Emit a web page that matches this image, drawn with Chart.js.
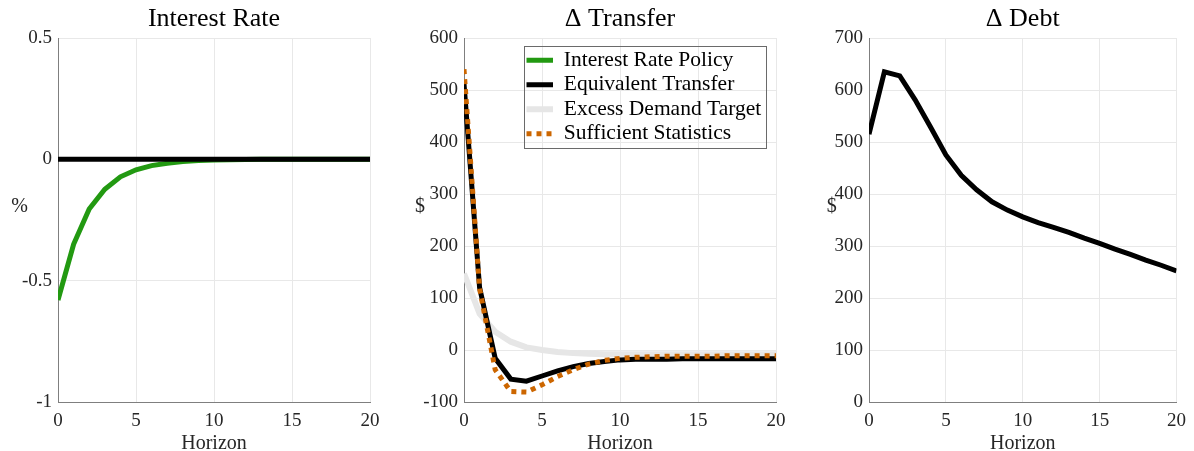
<!DOCTYPE html>
<html>
<head>
<meta charset="utf-8">
<script src="https://cdn.jsdelivr.net/npm/chart.js@4.4.1/dist/chart.umd.min.js"></script>
<style>
  body { margin: 0; background: #fff; }
  #wrap { position: relative; width: 1194px; height: 451px; }
  canvas { position: absolute; top: 0; }
</style>
</head>
<body>
<div id="wrap">
  <canvas id="rate" width="398" height="451" style="left:0px"></canvas>
  <canvas id="transfer" width="398" height="451" style="left:398px"></canvas>
  <canvas id="debt" width="398" height="451" style="left:796px"></canvas>
</div>
<script>
// horizon (quarters)
const horizon = [0, 1, 2, 3, 4, 5, 6, 7, 8, 9, 10, 11, 12, 13, 14, 15, 16, 17, 18, 19, 20];

// Interest Rate panel (%)
const ratePolicy = [-0.58, -0.35, -0.205, -0.123, -0.072, -0.043, -0.026, -0.016, -0.009, -0.005, -0.003, -0.002, -0.001, 0, 0, 0, 0, 0, 0, 0, 0];
const rateEquivalent = [0, 0, 0, 0, 0, 0, 0, 0, 0, 0, 0, 0, 0, 0, 0, 0, 0, 0, 0, 0, 0];

// Delta Transfer panel ($)
const transferEquivalent = [512, 120, -16, -56, -60, -50, -40, -32, -26, -22, -19, -18, -18, -18, -17, -17, -17, -17, -17, -17, -17];
const transferExcessDemand = [147, 70, 35, 16, 5, 0, -4, -6, -7, -8, -8, -8, -8, -8, -8, -8, -8, -8, -8, -8, -8];
const transferSufficient = [540, 118, -38, -80, -81, -67, -51, -38, -27, -20, -16, -14, -13, -12, -12, -12, -12, -11, -11, -11, -11];

// Delta Debt panel ($)
const debtEquivalent = [515, 635, 627, 581, 529, 475, 436, 408, 385, 369, 356, 345, 336, 326, 315, 305, 294, 284, 273, 263, 252];

const seriesNames = ['Interest Rate Policy', 'Equivalent Transfer', 'Excess Demand Target', 'Sufficient Statistics'];
const xTicks = { min: 0, max: 20, step: 5 };

const GREEN = '#229911', BLACK = '#000000', GRAY = '#e6e6e6', ORANGE = '#cc6600';
const FONT = '"Liberation Serif", "DejaVu Serif", serif';

Chart.defaults.font.family = FONT;
Chart.defaults.color = '#262626';

const pts = ys => ys.map((y, i) => ({ x: horizon[i], y: y }));

// y label drawn upright, as in the original
const yLabel = {
  id: 'yLabel',
  afterDraw(chart, args, opts) {
    const ctx = chart.ctx;
    ctx.save();
    ctx.font = '20px ' + FONT;
    ctx.fillStyle = '#262626';
    ctx.textAlign = 'center';
    ctx.textBaseline = 'middle';
    ctx.fillText(opts.text, opts.x, opts.y);
    ctx.restore();
  }
};

// put the legend in the top right corner of the plot, with a frame
const legendBox = {
  id: 'legendBox',
  afterLayout(chart, args, opts) {
    const lg = chart.legend, a = chart.chartArea;
    const left = a.right - opts.right - opts.width;
    const top = a.top + opts.top;
    lg.left = left - 0.5;
    lg.top = top + 0.5;
    lg.right = left + opts.width;
    lg.bottom = top + opts.height;
    lg.width = opts.width;
    lg.height = opts.height;
  },
  afterDraw(chart, args, opts) {
    const a = chart.chartArea, ctx = chart.ctx;
    const left = a.right - opts.right - opts.width;
    const top = a.top + opts.top;
    ctx.save();
    ctx.strokeStyle = '#6a6a6a';
    ctx.lineWidth = 1;
    ctx.strokeRect(Math.round(left) + 0.5, Math.round(top) + 0.5, opts.width, opts.height);
    ctx.restore();
  }
};

function line(label, data, color, order, dash) {
  return {
    label: label,
    data: pts(data),
    borderColor: color,
    backgroundColor: color,
    borderWidth: 5,
    borderDash: dash || [],
    pointRadius: 0,
    fill: false,
    tension: 0,
    order: order
  };
}

function makeChart(id, opt) {
  return new Chart(document.getElementById(id), {
    type: 'line',
    data: { datasets: opt.datasets },
    plugins: opt.plugins,
    options: {
      responsive: false,
      animation: false,
      devicePixelRatio: 1,
      layout: { padding: { left: 0, top: 0, bottom: 0, right: opt.padRight } },
      plugins: {
        title: {
          display: true,
          text: opt.title,
          fullSize: false,
          color: '#000',
          font: { size: 26, weight: 'normal', lineHeight: 1.2 },
          padding: { top: 4, bottom: 2.8 }
        },
        legend: opt.legend || { display: false },
        tooltip: { enabled: false },
        yLabel: opt.yLabel,
        legendBox: opt.legendBox
      },
      scales: {
        x: {
          type: 'linear',
          min: xTicks.min,
          max: xTicks.max,
          ticks: { stepSize: xTicks.step, padding: 8, maxRotation: 0, font: { size: 19 } },
          grid: { color: '#e8e8e8', drawTicks: false },
          border: { color: '#7f7f7f' },
          title: { display: true, text: 'Horizon', color: '#262626', font: { size: 20, lineHeight: '15px' }, padding: { top: 0, bottom: 0 } },
          afterFit(s) { s.height = 49; }
        },
        y: {
          min: opt.yMin,
          max: opt.yMax,
          ticks: { stepSize: opt.yStep, padding: 6, font: { size: 19 }, callback: v => String(v) },
          grid: { color: '#e8e8e8', drawTicks: false },
          border: { color: '#7f7f7f' },
          afterFit(s) { s.width = opt.yWidth; }
        }
      }
    }
  });
}

makeChart('rate', {
  title: 'Interest Rate',
  datasets: [
    line(seriesNames[0], ratePolicy, GREEN, 1),
    line(seriesNames[1], rateEquivalent, BLACK, 0)
  ],
  plugins: [yLabel],
  yLabel: { text: '%', x: 19.5, y: 207 },
  yMin: -1, yMax: 0.5, yStep: 0.5, yWidth: 58, padRight: 28
});

const transferSets = [
  line(seriesNames[0], [], GREEN, 3),
  line(seriesNames[1], transferEquivalent, BLACK, 1),
  line(seriesNames[2], transferExcessDemand, GRAY, 2),
  line(seriesNames[3], transferSufficient, ORANGE, 0, [5, 5])
];
transferSets[2].borderWidth = 6;

makeChart('transfer', {
  title: 'Δ Transfer',
  datasets: transferSets,
  plugins: [yLabel, legendBox],
  yLabel: { text: '$', x: 22, y: 207 },
  legend: {
    display: true,
    position: 'chartArea',
    align: 'start',
    labels: {
      usePointStyle: true,
      pointStyle: 'line',
      pointStyleWidth: 26.5,
      padding: 3,
      color: '#000',
      font: { size: 21.5 },
      sort: (a, b) => a.datasetIndex - b.datasetIndex,
      generateLabels(chart) {
        const items = Chart.defaults.plugins.legend.labels.generateLabels(chart);
        items.forEach(it => {
          const ds = chart.data.datasets[it.datasetIndex];
          it.lineDash = ds.borderDash;
          it.lineWidth = ds.borderWidth;
          it.strokeStyle = ds.borderColor;
        });
        return items;
      }
    }
  },
  legendBox: { right: 10, top: 8, width: 242, height: 102 },
  yMin: -100, yMax: 600, yStep: 100, yWidth: 66, padRight: 20
});

makeChart('debt', {
  title: 'Δ Debt',
  datasets: [
    line(seriesNames[1], debtEquivalent, BLACK, 0)
  ],
  plugins: [yLabel],
  yLabel: { text: '$', x: 35.7, y: 207 },
  yMin: 0, yMax: 700, yStep: 100, yWidth: 73, padRight: 13
});
</script>
</body>
</html>
